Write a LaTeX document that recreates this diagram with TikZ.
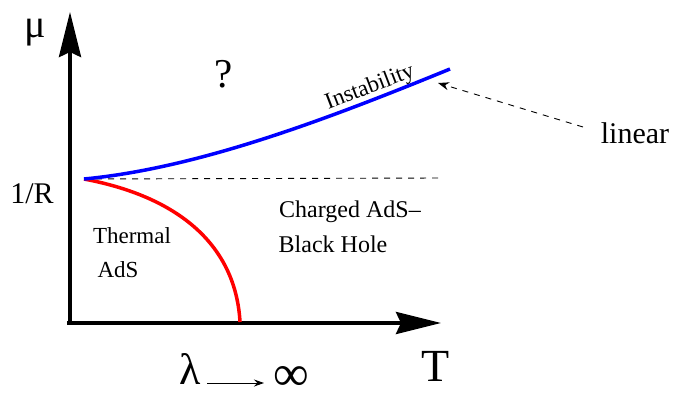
\documentclass[tikz,border=0pt]{standalone}
\usepackage{fontspec}
\setmainfont{Liberation Serif}
\usetikzlibrary{arrows.meta}
\begin{document}
\begin{tikzpicture}[x=1pt,y=-1pt,
  axis/.style={line width=4pt,-{Stealth[length=45pt,width=22pt,inset=5pt]}},
  curveline/.style={line width=3.5pt},
  lbl/.style={inner sep=0pt,anchor=base}]
\useasboundingbox (0,0) rectangle (676,394);
\coordinate (o) at (70,323);
\coordinate (ytip) at (70,12);
\coordinate (xtip) at (441,323);
\coordinate (xo) at (67,323);
\draw[axis] (o) -- (ytip);
\draw[axis] (xo) -- (xtip);
% phase boundaries
\coordinate (p) at (84,179);
\coordinate (bend) at (450,69);
\coordinate (rend) at (240,322);
\coordinate (dashend) at (440,178);
\draw[line width=0.9pt,dash pattern=on 6pt off 6pt] (p) -- (dashend);
\draw[curveline,red] (p) .. controls (185,198) and (236,250) .. (rend);
\draw[curveline,blue] (p) .. controls (200,168) and (330,118) .. (bend);
% labels
\node[inner sep=0pt,font=\fontsize{40}{40}\selectfont] (mu) at (35,33) {μ};
\node[lbl,font=\fontsize{41}{41}\selectfont] (q) at (224,87) {?};
\node[lbl,font=\fontsize{30}{30}\selectfont] (r) at (32,203) {1/R};
\node[lbl,font=\fontsize{23}{23}\selectfont] (th) at (132,243) {Thermal};
\node[lbl,font=\fontsize{23}{23}\selectfont] (ads) at (118,277) {AdS};
\node[lbl,font=\fontsize{24}{24}\selectfont] (ch) at (350,217) {Charged AdS–};
\node[lbl,font=\fontsize{24}{24}\selectfont] (bh) at (333,252) {Black Hole};
\node[lbl,font=\fontsize{23}{23}\selectfont,rotate=21] (ins) at (372,93) {Instability};
\node[lbl,font=\fontsize{30}{30}\selectfont] (lin) at (635,143) {linear};
\node[lbl,font=\fontsize{46}{46}\selectfont] (T) at (436,381) {T};
\node[lbl,font=\fontsize{44}{44}\selectfont] (lam) at (190,384) {λ};
\node[lbl,font=\fontsize{50}{50}\selectfont] (inf) at (291,390) {∞};
\coordinate (la) at (207,383);
\coordinate (lb) at (264,383);
\draw[line width=1pt,-{Stealth[length=10pt,width=7pt]}] (la) -- (lb);
\coordinate (linstart) at (583,127);
\coordinate (lintip) at (438,83);
\draw[line width=0.9pt,dash pattern=on 6pt off 6pt,-{Stealth[length=11pt,width=8pt]}] (linstart) -- (lintip);
\end{tikzpicture}
\end{document}
